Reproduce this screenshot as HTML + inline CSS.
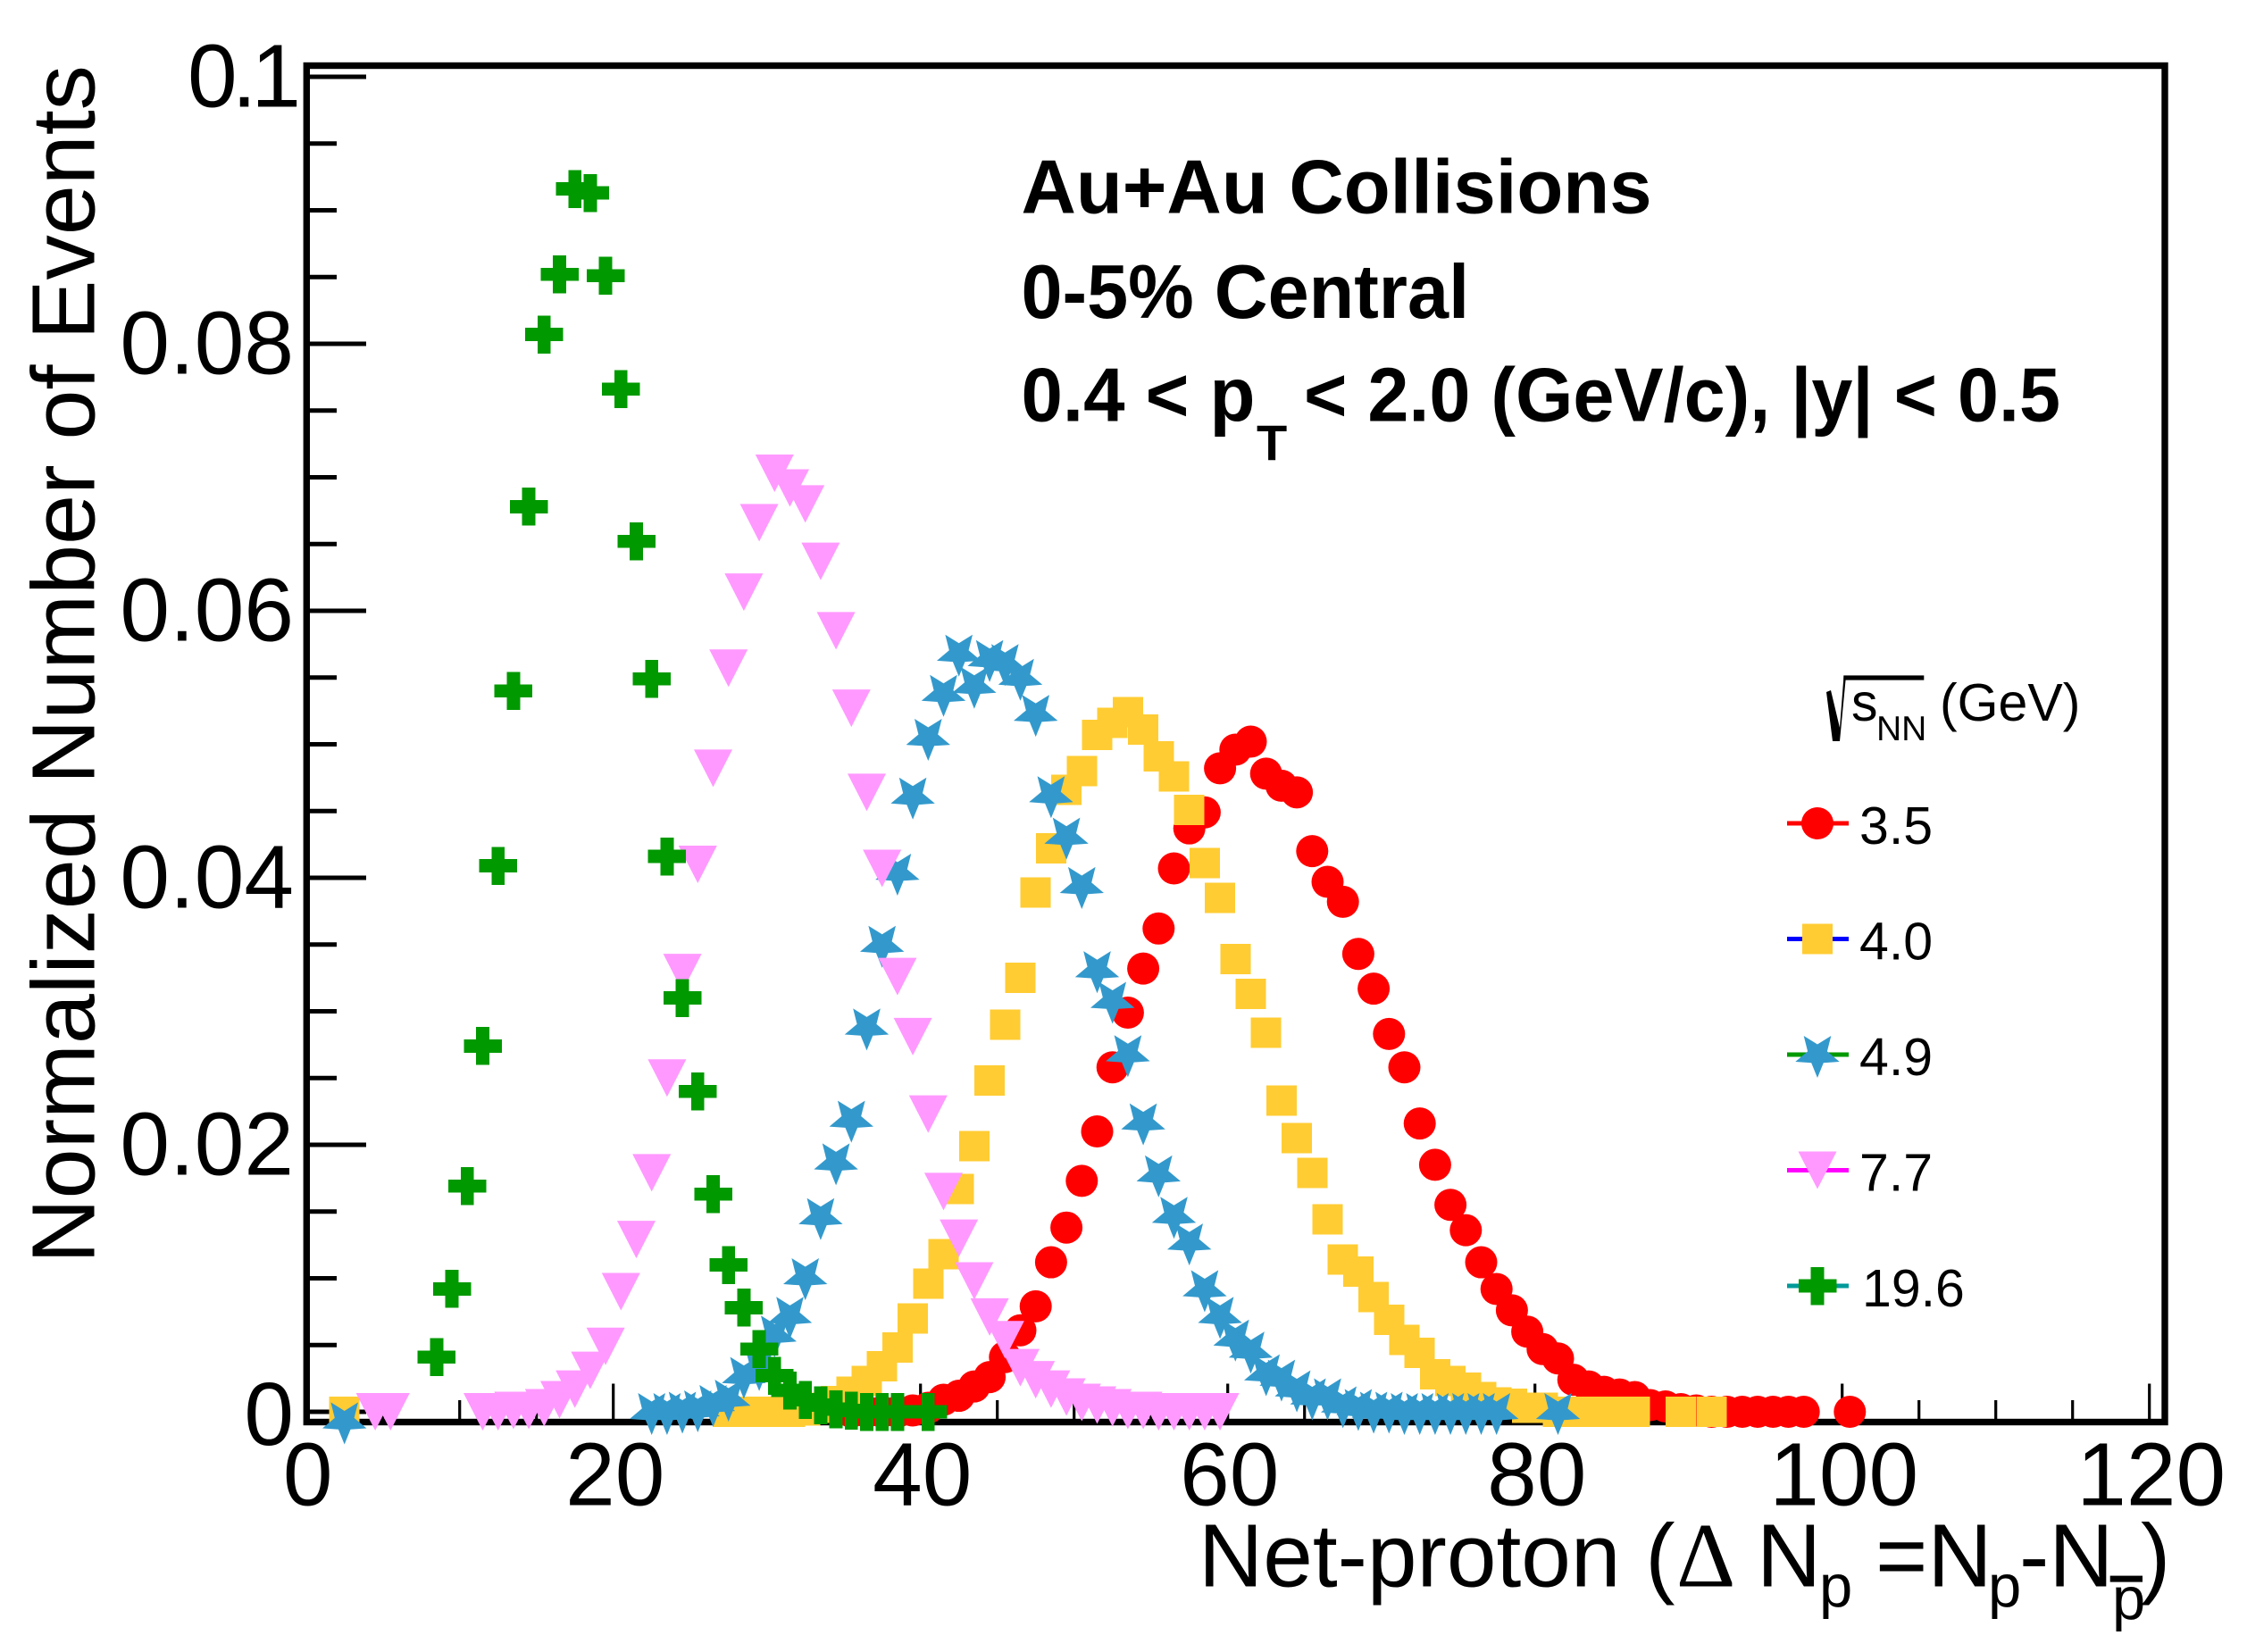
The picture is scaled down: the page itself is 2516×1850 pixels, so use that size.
<!DOCTYPE html>
<html lang="en">
<head>
<meta charset="utf-8">
<title>Net-proton distributions</title>
<style>
html,body{margin:0;padding:0;background:#fff;}
svg{display:block;}
text{font-family:"Liberation Sans",Arial,sans-serif;fill:#000;}
.b{font-weight:bold;font-size:85.5px;}
</style>
</head>
<body>
<svg id="chart" xmlns="http://www.w3.org/2000/svg" width="2516" height="1850" viewBox="0 0 2516 1850">
  <rect x="0" y="0" width="2516" height="1850" fill="#fff"/>
  <g id="ticks"></g>
  <rect x="343.3" y="73.5" width="2080.7" height="1519" fill="none" stroke="#000" stroke-width="7.4"/>
  <g id="tick-labels"></g>

  <text transform="translate(105.5,1415) rotate(-90)" font-size="100.5" textLength="1342" lengthAdjust="spacingAndGlyphs">Normalized Number of Events</text>

  <g>
    <text x="1342" y="1776.5" font-size="100">Net-proton (</text>
    <text x="1877" y="1776.5" font-size="103" style="font-family:'Liberation Serif',serif">&#916;</text>
    <text x="1967" y="1776.5" font-size="100">N</text>
    <text x="2037" y="1799" font-size="67">p</text>
    <text x="2100" y="1776.5" font-size="100">=N</text>
    <text x="2226" y="1799" font-size="67">p</text>
    <text x="2261" y="1776.5" font-size="100">-N</text>
    <text x="2365" y="1813" font-size="67">p</text>
    <rect x="2362.7" y="1764.6" width="36.3" height="7" fill="#000"/>
    <text x="2397" y="1776.5" font-size="100">)</text>
  </g>

  <g>
    <text class="b" x="1143.5" y="238.3" textLength="706" lengthAdjust="spacingAndGlyphs">Au+Au Collisions</text>
    <text class="b" x="1143.5" y="356" textLength="501.6" lengthAdjust="spacingAndGlyphs">0-5% Central</text>
    <text class="b" x="1143.5" y="471.7" textLength="262" lengthAdjust="spacingAndGlyphs">0.4 &lt; p</text>
    <text class="b" x="1407" y="515" style="font-size:56px">T</text>
    <text class="b" x="1460" y="471.7" textLength="847" lengthAdjust="spacingAndGlyphs">&lt; 2.0 (GeV/c), |y| &lt; 0.5</text>
  </g>

  <g id="series-layer"></g>

  <g id="legend">
    <g>
      <polygon points="2045,775 2050,773 2060,815 2064.5,757 2067,757 2060,830 2052,830" fill="#000"/>
      <rect x="2064.3" y="756.4" width="90" height="5.2" fill="#000"/>
      <text x="2073" y="807" font-size="59">s</text>
      <text x="2101" y="829" font-size="39">NN</text>
      <text x="2172" y="807" font-size="59">(GeV)</text>
    </g>
  </g>
</svg>
<script>
// ---- Axis ticks ----
var xMajorTicks = [0, 20, 40, 60, 80, 100, 120];
var xMajorLabels = ['0', '20', '40', '60', '80', '100', '120'];
var xMinorTicks = [5, 10, 15, 25, 30, 35, 45, 50, 55, 65, 70, 75, 85, 90, 95, 105, 110, 115];
var yMajorTicks = [0, 0.02, 0.04, 0.06, 0.08, 0.1];
var yMajorLabels = ['0', '0.02', '0.04', '0.06', '0.08', '0.1'];
var yMinorTicks = [0.005, 0.01, 0.015, 0.025, 0.03, 0.035, 0.045, 0.05, 0.055, 0.065, 0.07, 0.075, 0.085, 0.09, 0.095];

// ---- Legend ----
var legendLabels = ['3.5', '4.0', '4.9', '7.7', '19.6'];

// ---- sqrt(sNN) = 3.5 GeV ----
var bins35 = [35.5,36.5,37.5,38.5,39.5,40.5,41.5,42.5,43.5,44.5,
  45.5,46.5,47.5,48.5,49.5,50.5,51.5,52.5,53.5,54.5,
  55.5,56.5,57.5,58.5,59.5,60.5,61.5,62.5,63.5,64.5,
  65.5,66.5,67.5,68.5,69.5,70.5,71.5,72.5,73.5,74.5,
  75.5,76.5,77.5,78.5,79.5,80.5,81.5,82.5,83.5,84.5,
  85.5,86.5,87.5,88.5,89.5,90.5,91.5,92.5,93.5,94.5,
  95.5,96.5,97.5,100.5];
var values35 = [0,0,0,0,.0001,.0003,.0009,.0012,.0019,.0026,
  .0041,.0061,.0079,.0112,.0138,.0173,.0210,.0258,.0299,.0332,
  .0362,.0407,.0437,.0449,.0482,.0496,.0502,.0478,.0469,.0464,
  .0420,.0397,.0382,.0343,.0317,.0283,.0258,.0216,.0185,.0155,
  .0136,.0112,.0092,.0076,.0060,.0047,.0040,.0024,.0019,.0015,
  .0013,.0011,.0005,.0004,.0002,.0001,0,0,0,0,
  0,0,0,0];

// ---- sqrt(sNN) = 4.0 GeV ----
var bins40 = [2.5,
  27.5,28.5,29.5,30.5,31.5,32.5,33.5,34.5,35.5,36.5,
  37.5,38.5,39.5,40.5,41.5,42.5,43.5,44.5,45.5,46.5,
  47.5,48.5,49.5,50.5,51.5,52.5,53.5,54.5,55.5,56.5,
  57.5,58.5,59.5,60.5,61.5,62.5,63.5,64.5,65.5,66.5,
  67.5,68.5,69.5,70.5,71.5,72.5,73.5,74.5,75.5,76.5,
  77.5,78.5,79.5,80.5,81.5,82.5,83.5,84.5,85.5,86.5,
  89.5,91.5];
var values40 = [0,
  0,0,0,0,0,.0001,.0003,.0008,.0015,.0023,
  .0034,.0048,.0070,.0096,.0118,.0167,.0199,.0248,.0290,.0325,
  .0389,.0422,.0466,.0480,.0507,.0516,.0524,.0511,.0491,.0476,
  .0451,.0411,.0385,.0339,.0313,.0284,.0233,.0205,.0179,.0144,
  .0114,.0105,.0086,.0069,.0054,.0044,.0028,.0023,.0018,.0011,
  .0007,.0006,.0003,.0003,0,0,0,0,0,0,
  0,0];

// ---- sqrt(sNN) = 4.9 GeV ----
var bins49 = [2.5,
  22.5,23.5,24.5,25.5,26.5,27.5,28.5,29.5,30.5,31.5,
  32.5,33.5,34.5,35.5,36.5,37.5,38.5,39.5,40.5,41.5,
  42.5,43.5,44.5,45.5,46.5,47.5,48.5,49.5,50.5,51.5,
  52.5,53.5,54.5,55.5,56.5,57.5,58.5,59.5,60.5,61.5,
  62.5,63.5,64.5,65.5,66.5,67.5,68.5,69.5,70.5,71.5,
  72.5,73.5,74.5,75.5,76.5,77.5,
  81.5];
var values49 = [-.0007,
  0,0,.0001,.0002,.0006,.0010,.0027,.0033,.0058,.0072,
  .0101,.0146,.0187,.0219,.0288,.0350,.0404,.0461,.0505,.0538,
  .0568,.0544,.0564,.0561,.0550,.0523,.0462,.0431,.0394,.0331,
  .0308,.0268,.0217,.0178,.0147,.0127,.0092,.0072,.0055,.0046,
  .0029,.0025,.0017,.0011,.0011,.0005,.0003,.0001,.0001,0,
  0,0,0,0,0,0,
  0];

// ---- sqrt(sNN) = 7.7 GeV ----
var bins77 = [4.5,5.5,
  11.5,12.5,13.5,14.5,15.5,16.5,17.5,18.5,19.5,20.5,
  21.5,22.5,23.5,24.5,25.5,26.5,27.5,28.5,29.5,30.5,
  31.5,32.5,33.5,34.5,35.5,36.5,37.5,38.5,39.5,40.5,
  41.5,42.5,43.5,44.5,45.5,46.5,47.5,48.5,49.5,50.5,
  51.5,52.5,53.5,54.5,55.5,56.5,57.5,58.5,59.5];
var values77 = [0,0,
  0,0,.0001,.0001,.0003,.0009,.0017,.0031,.0049,.0090,
  .0129,.0179,.0250,.0329,.0410,.0482,.0557,.0614,.0666,.0703,
  .0692,.0680,.0637,.0585,.0527,.0464,.0407,.0326,.0281,.0223,
  .0165,.0130,.0098,.0071,.0054,.0033,.0024,.0017,.0011,.0007,
  .0005,.0003,.0001,.0001,0,0,0,0,0];

// ---- sqrt(sNN) = 19.6 GeV ----
var bins196 = [8.5,9.5,10.5,11.5,12.5,13.5,14.5,15.5,16.5,17.5,
  18.5,19.5,20.5,21.5,22.5,23.5,24.5,25.5,26.5,27.5,
  28.5,29.5,30.5,31.5,32.5,33.5,34.5,35.5,36.5,37.5,
  38.5,40.5];
var values196 = [.0041,.0092,.0169,.0274,.0409,.0540,.0678,.0807,.0852,.0916,
  .0913,.0851,.0766,.0652,.0549,.0416,.0310,.0240,.0163,.0110,
  .0078,.0047,.0027,.0016,.0009,.0005,.0002,.0001,0,0,
  0,0];

var NS = 'http://www.w3.org/2000/svg';
function xScale(v) { return 342.7 + 17.2 * v; }
function yScale(v) { return 1581 - 14950 * v; }

function make(tag, attrs, parent) {
  var el = document.createElementNS(NS, tag);
  for (var k in attrs) el.setAttribute(k, attrs[k]);
  parent.appendChild(el);
  return el;
}

function circleMark(cx, cy, parent) {
  return make('circle', { cx: cx, cy: cy, r: 18, fill: '#ff0000' }, parent);
}
function squareMark(cx, cy, parent) {
  return make('rect', { x: cx - 17, y: cy - 17, width: 34, height: 34, fill: '#ffcc33', 'shape-rendering': 'crispEdges' }, parent);
}
function starMark(cx, cy, parent) {
  var pts = [];
  for (var i = 0; i < 10; i++) {
    var r = i % 2 === 0 ? 26 : 11.5;
    var a = i * Math.PI / 5;
    pts.push((cx + r * Math.sin(a)).toFixed(1) + ',' + (cy + r * Math.cos(a)).toFixed(1));
  }
  return make('polygon', { points: pts.join(' '), fill: '#3399cc' }, parent);
}
function triangleMark(cx, cy, parent) {
  var pts = (cx - 21.5) + ',' + (cy - 21) + ' ' + (cx + 21.5) + ',' + (cy - 21) + ' ' + cx + ',' + (cy + 21);
  return make('polygon', { points: pts, fill: '#ff99ff' }, parent);
}
function plusMark(cx, cy, parent) {
  var a = 21.25, b = 7.4;
  var pts = [[-b,-a],[b,-a],[b,-b],[a,-b],[a,b],[b,b],[b,a],[-b,a],[-b,b],[-a,b],[-a,-b],[-b,-b]]
    .map(function (p) { return (cx + p[0]) + ',' + (cy + p[1]); }).join(' ');
  return make('polygon', { points: pts, fill: '#009900', 'shape-rendering': 'crispEdges' }, parent);
}

// Ticks
var tickGroup = document.getElementById('ticks');
xMajorTicks.forEach(function (v) {
  var t = make('rect', { x: xScale(v) - 1.6, y: 1589 - 39.5, width: 3.2, height: 39.5, fill: '#000' }, tickGroup);
  
  
});
xMinorTicks.forEach(function (v) {
  var t = make('rect', { x: xScale(v) - 1.6, y: 1589 - 21, width: 3.2, height: 21, fill: '#000' }, tickGroup);
  
  
});
yMajorTicks.forEach(function (v) {
  var t = make('rect', { x: 347, y: yScale(v) - 2.5, width: 63, height: 5, fill: '#000' }, tickGroup);
  
  
});
yMinorTicks.forEach(function (v) {
  var t = make('rect', { x: 347, y: yScale(v) - 2.5, width: 30, height: 5, fill: '#000' }, tickGroup);
  
  
});

// Tick labels
var labelGroup = document.getElementById('tick-labels');
xMajorTicks.forEach(function (v, i) {
  var t = make('text', { x: xScale(v) + 2, y: 1685.5, 'font-size': 100, 'text-anchor': 'middle' }, labelGroup);
  
  
  t.textContent = xMajorLabels[i];
});
yMajorTicks.forEach(function (v, i) {
  var isTop = yMajorLabels[i] === '0.1';
  var attrs = { x: isTop ? 210 : 329, y: yScale(v) + (v === 0 ? 37 : 33.5), 'font-size': 100, 'text-anchor': isTop ? 'start' : 'end' };
  if (isTop) attrs.textLength = 127;
  var t = make('text', attrs, labelGroup);
  
  
  t.textContent = yMajorLabels[i];
});

// Series, drawn back to front
var layer = document.getElementById('series-layer');
function drawSeries(name, bins, values, marker) {
  var g = make('g', {}, layer);
  
  
  bins.forEach(function (b, i) {
    var m = marker(xScale(b), yScale(values[i]), g);
    
    
  });
}
drawSeries('series-3-5-gev', bins35, values35, circleMark);
drawSeries('series-4-0-gev', bins40, values40, squareMark);
drawSeries('series-4-9-gev', bins49, values49, starMark);
drawSeries('series-7-7-gev', bins77, values77, triangleMark);
drawSeries('series-19-6-gev', bins196, values196, plusMark);

// Legend
var legend = document.getElementById('legend');
var legendLineColors = ['#ff0000', '#0000ff', '#009900', '#ff00ff', '#009999'];
var legendMarkers = [circleMark, squareMark, starMark, triangleMark, plusMark];
legendLabels.forEach(function (label, i) {
  var rowY = 922 + 129.5 * i;
  var g = make('g', {}, legend);
  
  
  var line = make('rect', { x: 2001, y: rowY - 2.5, width: 69, height: 5, fill: legendLineColors[i] }, g);
  
  
  var mk = legendMarkers[i](2035, rowY, g);
  
  
  var t = make('text', { x: label === '19.6' ? 2085 : 2082, y: rowY + 23, 'font-size': 59 }, g);
  
  
  t.textContent = label;
});
</script>
</body>
</html>
